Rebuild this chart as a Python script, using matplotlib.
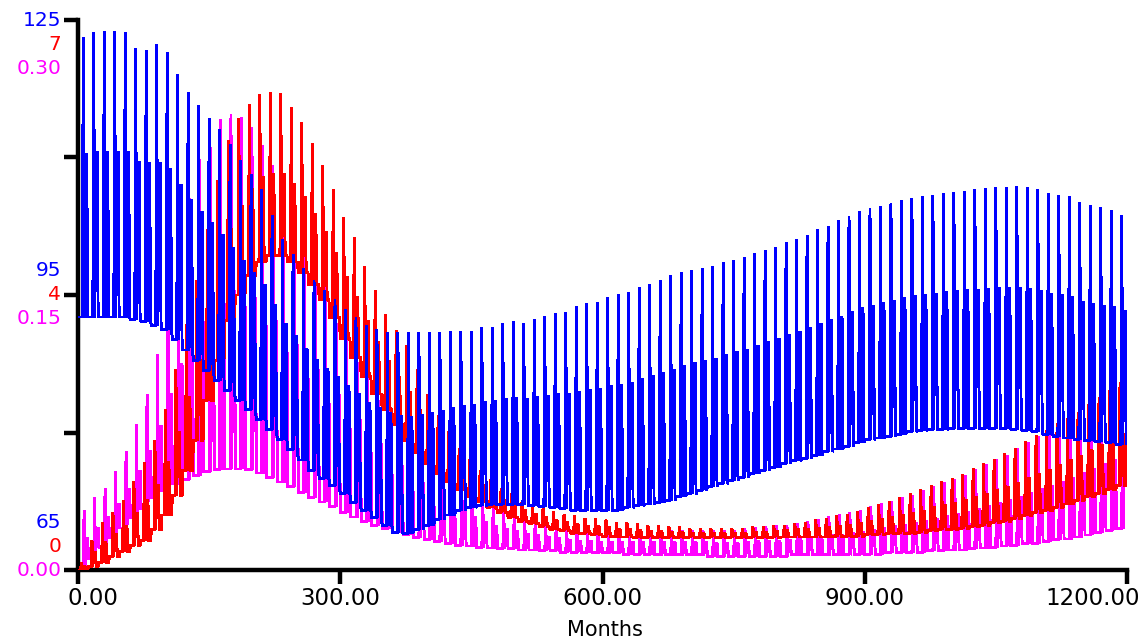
import numpy as np
import matplotlib
matplotlib.use("Agg")
import matplotlib.pyplot as plt
import matplotlib.transforms as mtransforms

# yearly peak / mid-level / trough values (one entry per year, 100 years)
blue_hi = [
    123.1, 123.6, 123.7, 123.7, 123.6, 121.9, 121.7, 122.3, 121.4, 119.0,
    117.1, 115.7, 114.3, 113.0, 111.4, 109.7, 108.1, 106.5, 103.7, 101.0,
    99.4, 97.9, 96.6, 95.5, 94.5, 93.4, 92.5, 91.7, 91.2, 90.9,
    90.9, 90.9, 90.9, 90.9, 90.9, 91.0, 91.0, 91.0, 91.4, 91.5,
    91.9, 92.1, 91.9, 92.3, 92.6, 93.0, 93.1, 93.7, 94.1, 94.2,
    94.7, 95.0, 95.3, 95.8, 96.1, 96.6, 97.1, 97.4, 97.7, 97.9,
    98.1, 98.5, 98.8, 99.1, 99.5, 99.9, 100.2, 100.7, 101.1, 101.5,
    102.1, 102.5, 103.1, 103.6, 104.1, 104.4, 104.7, 105.0, 105.3, 105.5,
    105.7, 105.9, 106.1, 106.2, 106.3, 106.5, 106.6, 106.7, 106.7, 106.8,
    106.7, 106.5, 106.1, 105.9, 105.7, 105.1, 104.8, 104.5, 104.2, 103.7,
]
blue_mid = [
    110.3, 110.6, 110.6, 110.6, 110.6, 109.5, 109.3, 109.4, 108.7, 106.9,
    105.3, 104.0, 102.8, 101.5, 100.1, 98.7, 97.3, 96.0, 93.9, 91.8,
    90.5, 89.1, 87.9, 86.9, 86.0, 85.0, 84.1, 83.2, 82.6, 82.1,
    81.7, 81.6, 81.9, 82.1, 82.3, 82.6, 82.8, 82.9, 83.3, 83.4,
    83.6, 83.7, 83.6, 83.8, 83.9, 84.1, 84.1, 84.4, 84.6, 84.7,
    85.0, 85.1, 85.4, 85.8, 86.1, 86.4, 86.8, 87.2, 87.5, 87.7,
    88.0, 88.4, 88.7, 89.0, 89.4, 89.8, 90.1, 90.6, 90.9, 91.3,
    91.8, 92.2, 92.6, 93.1, 93.5, 93.8, 94.1, 94.3, 94.6, 94.8,
    95.0, 95.1, 95.3, 95.4, 95.5, 95.5, 95.6, 95.7, 95.7, 95.7,
    95.6, 95.4, 95.1, 94.9, 94.7, 94.2, 94.0, 93.8, 93.6, 93.2,
]
blue_lo = [
    92.6, 92.6, 92.6, 92.6, 92.6, 92.3, 92.1, 91.7, 91.2, 90.1,
    89.0, 87.9, 86.8, 85.7, 84.6, 83.5, 82.5, 81.4, 80.3, 79.2,
    78.1, 77.0, 75.9, 75.0, 74.2, 73.3, 72.4, 71.5, 70.7, 69.9,
    69.1, 69.0, 69.4, 69.9, 70.5, 71.0, 71.5, 71.8, 72.0, 72.1,
    72.1, 72.1, 72.1, 72.0, 71.9, 71.8, 71.7, 71.5, 71.5, 71.5,
    71.5, 71.5, 71.8, 72.0, 72.2, 72.4, 72.6, 73.0, 73.3, 73.7,
    74.1, 74.4, 74.8, 75.1, 75.5, 75.9, 76.2, 76.6, 76.9, 77.2,
    77.5, 77.9, 78.2, 78.5, 78.9, 79.2, 79.4, 79.6, 79.8, 80.1,
    80.2, 80.3, 80.3, 80.4, 80.4, 80.4, 80.4, 80.4, 80.4, 80.3,
    80.2, 80.1, 79.8, 79.6, 79.4, 79.2, 79.1, 79.0, 78.9, 78.7,
]
blue_end = 88.2

red_hi = [
    0.10, 0.38, 0.60, 0.73, 0.89, 1.12, 1.37, 1.65, 2.04, 2.55,
    3.12, 3.69, 4.33, 4.96, 5.47, 5.75, 5.93, 6.05, 6.08, 6.07,
    5.89, 5.69, 5.43, 5.15, 4.84, 4.49, 4.23, 3.86, 3.56, 3.25,
    3.05, 2.86, 2.55, 2.23, 1.97, 1.76, 1.55, 1.40, 1.27, 1.15,
    1.04, 0.97, 0.89, 0.83, 0.79, 0.74, 0.71, 0.69, 0.66, 0.65,
    0.64, 0.61, 0.60, 0.59, 0.57, 0.56, 0.55, 0.55, 0.53, 0.53,
    0.53, 0.53, 0.53, 0.53, 0.55, 0.55, 0.56, 0.57, 0.59, 0.61,
    0.64, 0.66, 0.69, 0.71, 0.75, 0.79, 0.83, 0.87, 0.92, 0.97,
    1.02, 1.07, 1.12, 1.17, 1.22, 1.29, 1.35, 1.41, 1.48, 1.55,
    1.63, 1.71, 1.78, 1.86, 1.93, 2.01, 2.10, 2.19, 2.29, 2.38,
]
red_mid = [
    0.05, 0.22, 0.35, 0.45, 0.56, 0.72, 0.88, 1.08, 1.37, 1.75,
    2.20, 2.67, 3.25, 3.82, 4.33, 4.63, 4.84, 4.99, 5.04, 5.04,
    4.91, 4.74, 4.53, 4.30, 4.03, 3.72, 3.47, 3.16, 2.90, 2.65,
    2.45, 2.26, 2.03, 1.80, 1.60, 1.45, 1.29, 1.17, 1.07, 0.97,
    0.89, 0.82, 0.76, 0.71, 0.67, 0.63, 0.61, 0.58, 0.56, 0.55,
    0.54, 0.52, 0.51, 0.50, 0.49, 0.49, 0.48, 0.48, 0.47, 0.47,
    0.47, 0.47, 0.47, 0.47, 0.48, 0.48, 0.49, 0.50, 0.51, 0.52,
    0.53, 0.54, 0.56, 0.57, 0.59, 0.62, 0.64, 0.67, 0.69, 0.72,
    0.75, 0.79, 0.82, 0.85, 0.88, 0.92, 0.96, 1.01, 1.05, 1.10,
    1.16, 1.22, 1.27, 1.33, 1.39, 1.45, 1.52, 1.58, 1.66, 1.73,
]
red_lo = [
    0.00, 0.05, 0.10, 0.17, 0.23, 0.31, 0.38, 0.51, 0.70, 0.95,
    1.27, 1.65, 2.16, 2.67, 3.18, 3.50, 3.75, 3.92, 4.00, 4.00,
    3.92, 3.79, 3.63, 3.44, 3.21, 2.95, 2.70, 2.46, 2.24, 2.04,
    1.85, 1.65, 1.50, 1.36, 1.23, 1.13, 1.03, 0.94, 0.87, 0.79,
    0.73, 0.67, 0.62, 0.59, 0.55, 0.52, 0.50, 0.47, 0.46, 0.45,
    0.43, 0.42, 0.42, 0.41, 0.41, 0.41, 0.41, 0.41, 0.41, 0.41,
    0.41, 0.41, 0.41, 0.41, 0.41, 0.41, 0.41, 0.42, 0.42, 0.42,
    0.42, 0.42, 0.43, 0.43, 0.43, 0.45, 0.45, 0.46, 0.46, 0.47,
    0.48, 0.50, 0.51, 0.52, 0.53, 0.55, 0.57, 0.60, 0.62, 0.65,
    0.69, 0.73, 0.76, 0.80, 0.84, 0.89, 0.93, 0.97, 1.02, 1.07,
]
red_end = 1.90

magenta_hi = [
    0.0327, 0.0393, 0.0447, 0.0535, 0.0644, 0.0791, 0.0955, 0.1173, 0.1473, 0.1773,
    0.2046, 0.2237, 0.2373, 0.2455, 0.2482, 0.2466, 0.2411, 0.2318, 0.2209, 0.2100,
    0.1991, 0.1882, 0.1773, 0.1664, 0.1555, 0.1446, 0.1336, 0.1227, 0.1118, 0.1009,
    0.0927, 0.0846, 0.0764, 0.0682, 0.0611, 0.0546, 0.0491, 0.0436, 0.0393, 0.0355,
    0.0327, 0.0300, 0.0278, 0.0262, 0.0245, 0.0235, 0.0224, 0.0218, 0.0213, 0.0207,
    0.0207, 0.0207, 0.0213, 0.0213, 0.0213, 0.0213, 0.0213, 0.0213, 0.0213, 0.0213,
    0.0218, 0.0218, 0.0218, 0.0224, 0.0229, 0.0235, 0.0240, 0.0245, 0.0256, 0.0267,
    0.0278, 0.0289, 0.0300, 0.0311, 0.0327, 0.0344, 0.0360, 0.0376, 0.0393, 0.0409,
    0.0431, 0.0453, 0.0475, 0.0496, 0.0518, 0.0546, 0.0573, 0.0600, 0.0627, 0.0660,
    0.0693, 0.0726, 0.0758, 0.0791, 0.0829, 0.0867, 0.0906, 0.0944, 0.0982, 0.1015,
]
magenta_mid = [
    0.0172, 0.0229, 0.0284, 0.0355, 0.0437, 0.0538, 0.0647, 0.0783, 0.0955, 0.1121,
    0.1271, 0.1378, 0.1454, 0.1501, 0.1517, 0.1509, 0.1479, 0.1424, 0.1358, 0.1290,
    0.1222, 0.1154, 0.1086, 0.1018, 0.0950, 0.0881, 0.0813, 0.0747, 0.0682, 0.0617,
    0.0567, 0.0519, 0.0470, 0.0423, 0.0382, 0.0344, 0.0314, 0.0284, 0.0259, 0.0238,
    0.0221, 0.0208, 0.0194, 0.0186, 0.0175, 0.0170, 0.0161, 0.0158, 0.0156, 0.0150,
    0.0150, 0.0150, 0.0150, 0.0150, 0.0150, 0.0148, 0.0148, 0.0148, 0.0148, 0.0148,
    0.0147, 0.0147, 0.0147, 0.0150, 0.0153, 0.0156, 0.0158, 0.0161, 0.0169, 0.0175,
    0.0180, 0.0186, 0.0191, 0.0197, 0.0207, 0.0216, 0.0224, 0.0235, 0.0243, 0.0254,
    0.0265, 0.0278, 0.0290, 0.0303, 0.0314, 0.0331, 0.0347, 0.0363, 0.0379, 0.0398,
    0.0418, 0.0437, 0.0456, 0.0478, 0.0499, 0.0524, 0.0549, 0.0573, 0.0598, 0.0620,
]
magenta_lo = [
    0.0016, 0.0065, 0.0120, 0.0175, 0.0229, 0.0284, 0.0338, 0.0393, 0.0436, 0.0469,
    0.0496, 0.0518, 0.0535, 0.0546, 0.0551, 0.0551, 0.0546, 0.0529, 0.0507, 0.0480,
    0.0453, 0.0425, 0.0398, 0.0371, 0.0344, 0.0316, 0.0289, 0.0267, 0.0245, 0.0224,
    0.0207, 0.0191, 0.0175, 0.0164, 0.0153, 0.0142, 0.0136, 0.0131, 0.0125, 0.0120,
    0.0115, 0.0115, 0.0109, 0.0109, 0.0104, 0.0104, 0.0098, 0.0098, 0.0098, 0.0093,
    0.0093, 0.0093, 0.0087, 0.0087, 0.0087, 0.0082, 0.0082, 0.0082, 0.0082, 0.0082,
    0.0076, 0.0076, 0.0076, 0.0076, 0.0076, 0.0076, 0.0076, 0.0076, 0.0082, 0.0082,
    0.0082, 0.0082, 0.0082, 0.0082, 0.0087, 0.0087, 0.0087, 0.0093, 0.0093, 0.0098,
    0.0098, 0.0104, 0.0104, 0.0109, 0.0109, 0.0115, 0.0120, 0.0125, 0.0131, 0.0136,
    0.0142, 0.0147, 0.0153, 0.0164, 0.0169, 0.0180, 0.0191, 0.0202, 0.0213, 0.0224,
]
magenta_end = 0.082

x_ticks = [0, 300, 600, 900, 1200]
x_tick_labels = ["0.00", "300.00", "600.00", "900.00", "1200.00"]

BLUE = "#0000FF"
RED = "#FF0000"
MAGENTA = "#FF00FF"


def monthly_path(hi, mid, lo, peak_month, end_value):
    # each year: trough, one-month spike back to the trough, a short step at the
    # mid level, then the trough again until the next spike
    vals = []
    for h, m, l in zip(hi, mid, lo):
        vals += [l] * peak_month + [h, l, m, m, m] + [l] * (7 - peak_month)
    vals.append(end_value)
    return np.arange(len(vals)), np.array(vals)


fig = plt.figure(figsize=(11.42, 6.44), dpi=100)
ax = fig.add_axes([78 / 1142, 1 - 570 / 644, 1049 / 1142, 550 / 644])
ax_red = ax.twinx()
ax_blue = ax.twinx()

line_kw = dict(lw=1.4, antialiased=False, solid_joinstyle="miter")

t, v = monthly_path(magenta_hi, magenta_mid, magenta_lo, 7, magenta_end)
ax.plot(t, v, color=MAGENTA, **line_kw)
ax.set_ylim(0, 0.30)

t, v = monthly_path(red_hi, red_mid, red_lo, 4, red_end)
ax_red.plot(t, v, color=RED, **line_kw)
ax_red.set_ylim(0, 7)
ax_red.axis("off")

t, v = monthly_path(blue_hi, blue_mid, blue_lo, 6, blue_end)
ax_blue.plot(t, v, color=BLUE, **line_kw)
ax_blue.set_ylim(65, 125)
ax_blue.axis("off")

for a in (ax, ax_red, ax_blue):
    a.set_xlim(0, 1200)

for side in ("top", "right"):
    ax.spines[side].set_visible(False)
for side in ("left", "bottom"):
    ax.spines[side].set_linewidth(3.2)
ax.set_yticks([0, 0.075, 0.15, 0.225, 0.30])
ax.set_yticklabels([])
ax.set_xticks(x_ticks)
ax.set_xticklabels([])
ax.tick_params(direction="out", length=10, width=3.2, color="black")

# stacked scale labels at left
label_rows = [
    (1.0, ["125", "7", "0.30"], "top"),
    (0.5, ["95", "4", "0.15"], "mid"),
    (0.0, ["65", "0", "0.00"], "bottom"),
]
colors = [BLUE, RED, MAGENTA]
step = 24 / 550
for y0, texts, where in label_rows:
    if where == "top":
        ys = [y0, y0 - step, y0 - 2 * step]
    elif where == "mid":
        ys = [y0 + step, y0, y0 - step]
    else:
        ys = [y0 + 2 * step, y0 + step, y0]
    for txt, yy, c in zip(texts, ys, colors):
        ax.text(-0.016, yy, txt, color=c, fontsize=14.5, ha="right", va="center",
                transform=ax.transAxes)

# x tick labels
trans = mtransforms.blended_transform_factory(ax.transData, ax.transAxes)
for xv, lab in zip(x_ticks, x_tick_labels):
    if xv == 0:
        ax.text(-10 / 1049, -0.052, lab, fontsize=16.5, ha="left", va="center",
                transform=ax.transAxes)
    elif xv == 1200:
        ax.text(1.0124, -0.052, lab, fontsize=16.5, ha="right", va="center",
                transform=ax.transAxes)
    else:
        ax.text(xv, -0.052, lab, fontsize=16.5, ha="center", va="center",
                transform=trans)

fig.text(605 / 1142, 1 - 630 / 644, "Months", fontsize=15, ha="center", va="center")

fig.savefig("out.png", dpi=100, facecolor="white")
